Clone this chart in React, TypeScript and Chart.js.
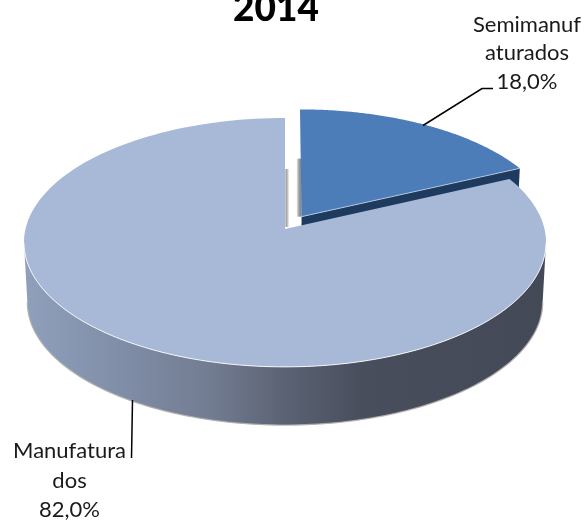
import React, { useEffect, useRef } from "react";
import { Chart, registerables } from "chart.js";

Chart.register(...registerables);

const chartTitle = "2014";
const categories = ["Semimanufaturados", "Manufaturados"];
const shares = [18.0, 82.0];
const labelBreaks = [["Semimanuf", "aturados"], ["Manufatura", "dos"]];
const sliceColors = ["#4C7DB9", "#A8B8D7"];
const edgeColors = ["#1F3A5F", "#596071"];

const OFFSET_PX = 26;
const OFFSET_SHRINK = 0.985;
const STRETCH_X = 1.2014;
const STRETCH_Y = 0.5694;
const PERSPECTIVE = 0.108;
const DEPTH = 60;
const LOWER_SCALE = 0.987;

const fmt = (v: number) => v.toFixed(1).replace(".", ",") + "%";

function projector(el: any) {
  const R = el.outerRadius;
  const mid = (el.startAngle + el.endAngle) / 2 + Math.PI / 2;
  const off = (el.options.offset || 0) / R;
  const shrink = off > 0 ? OFFSET_SHRINK : 1;
  const ou = Math.sin(mid) * off;
  const ov = Math.cos(mid) * off;
  return (angle: number, r: number, lower: boolean) => {
    const th = angle + Math.PI / 2;
    const u = ou + Math.sin(th) * r * shrink;
    const v = ov + Math.cos(th) * r * shrink;
    const s = (1 / (1 + PERSPECTIVE * v)) * (lower ? LOWER_SCALE : 1);
    return {
      x: el.x + R * STRETCH_X * u * s,
      y: el.y - R * STRETCH_Y * v * s + (lower ? DEPTH : 0),
    };
  };
}

function arcPoints(p: any, a0: number, a1: number, lower: boolean) {
  const pts = [];
  const n = 160;
  for (let i = 0; i <= n; i++) pts.push(p(a0 + ((a1 - a0) * i) / n, 1, lower));
  return pts;
}

function trace(ctx: CanvasRenderingContext2D, pts: any[], move = true) {
  pts.forEach((q, i) => (i === 0 && move ? ctx.moveTo(q.x, q.y) : ctx.lineTo(q.x, q.y)));
}

const pie3d = {
  id: "pie3d",
  beforeDatasetsDraw(chart: any) {
    const ctx: CanvasRenderingContext2D = chart.ctx;
    const [semi, manu] = chart.getDatasetMeta(0).data;
    const ps = projector(semi);
    const pm = projector(manu);

    const a = ps(semi.startAngle, 0, false);
    const e = ps(semi.endAngle, 1, false);
    const aLow = ps(semi.startAngle, 0, true);
    const eLow = ps(semi.endAngle, 1, true);
    ctx.fillStyle = edgeColors[0];
    ctx.beginPath();
    trace(ctx, [a, e, eLow, aLow]);
    ctx.closePath();
    ctx.fill();

    const g1 = ctx.createLinearGradient(a.x - 5, 0, a.x, 0);
    g1.addColorStop(0, "#f2f2f2");
    g1.addColorStop(0.5, "#9a9a9a");
    g1.addColorStop(1, "#7d8590");
    ctx.fillStyle = g1;
    ctx.fillRect(a.x - 5, a.y - 58, 5, 58);

    ctx.fillStyle = sliceColors[0];
    ctx.beginPath();
    ctx.moveTo(a.x, a.y);
    trace(ctx, arcPoints(ps, semi.startAngle, semi.endAngle, false), false);
    ctx.closePath();
    ctx.fill();
    ctx.strokeStyle = "rgba(190,205,225,0.85)";
    ctx.lineWidth = 1;
    ctx.beginPath();
    trace(ctx, [a, e]);
    ctx.stroke();

    const silhouette = Math.acos(-PERSPECTIVE);
    const frontStart = silhouette - Math.PI / 2;
    const wallEnd = 2 * Math.PI - silhouette - Math.PI / 2;
    const topPts = arcPoints(pm, frontStart, wallEnd, false);
    const lowPts = arcPoints(pm, frontStart, wallEnd, true);
    const grad = ctx.createLinearGradient(24, 0, 546, 0);
    grad.addColorStop(0, "#8FA0BC");
    grad.addColorStop(0.2, "#7F8CA5");
    grad.addColorStop(0.36, "#727C91");
    grad.addColorStop(0.5, "#5B6273");
    grad.addColorStop(0.65, "#484E5C");
    grad.addColorStop(1, "#434957");
    ctx.fillStyle = grad;
    ctx.beginPath();
    trace(ctx, topPts);
    trace(ctx, [...lowPts].reverse(), false);
    ctx.closePath();
    ctx.fill();
    ctx.strokeStyle = "rgba(175,175,175,0.9)";
    ctx.lineWidth = 1.3;
    ctx.beginPath();
    trace(ctx, lowPts);
    ctx.stroke();

    const m = pm(manu.startAngle, 0, false);
    const g2 = ctx.createLinearGradient(m.x + 0.5, 0, m.x + 4, 0);
    g2.addColorStop(0, "#8c8c8c");
    g2.addColorStop(0.6, "#c4c4c4");
    g2.addColorStop(1, "#f5f5f5");
    ctx.fillStyle = g2;
    ctx.fillRect(m.x + 0.5, m.y - 60, 3.5, 58);

    ctx.fillStyle = sliceColors[1];
    ctx.beginPath();
    ctx.moveTo(m.x, m.y);
    trace(ctx, arcPoints(pm, manu.startAngle, manu.endAngle, false), false);
    ctx.closePath();
    ctx.fill();
    ctx.strokeStyle = "rgba(255,255,255,0.85)";
    ctx.lineWidth = 1;
    ctx.beginPath();
    trace(ctx, topPts);
    ctx.stroke();
  },
  beforeDatasetDraw() {
    return false;
  },
  afterDraw(chart: any) {
    const ctx: CanvasRenderingContext2D = chart.ctx;
    ctx.save();
    ctx.fillStyle = "#000";
    ctx.textAlign = "center";
    ctx.textBaseline = "alphabetic";
    ctx.font = "900 37px Lato";
    ctx.fillText(chartTitle, 276, 21);

    ctx.font = "22px Lato";
    ctx.fillStyle = "#1a1a1a";
    const place = (i: number, x: number, y0: number, step: number) => {
      [...labelBreaks[i], fmt(shares[i])].forEach((line, k) =>
        ctx.fillText(line, x, y0 + k * step)
      );
    };
    place(0, 527, 31.5, 28.7);
    place(1, 69.5, 458, 29.5);

    ctx.strokeStyle = "#000";
    ctx.lineWidth = 1.5;
    ctx.beginPath();
    ctx.moveTo(423, 125.5);
    ctx.lineTo(482, 88.5);
    ctx.lineTo(493, 88.5);
    ctx.moveTo(132.5, 400);
    ctx.lineTo(131.5, 458);
    ctx.stroke();
    ctx.restore();
  },
};

export default function App() {
  const ref = useRef<HTMLCanvasElement>(null);
  useEffect(() => {
    const chart = new Chart(ref.current as HTMLCanvasElement, {
      type: "pie",
      data: {
        labels: categories,
        datasets: [
          {
            data: shares,
            backgroundColor: sliceColors,
            borderWidth: 0,
            offset: [OFFSET_PX, 0],
          },
        ],
      },
      options: {
        animation: false,
        responsive: false,
        layout: { padding: { left: 0, right: 15, top: 0, bottom: 65 } },
        plugins: { legend: { display: false }, tooltip: { enabled: false }, title: { display: false } },
      },
      plugins: [pie3d],
    } as any);
    return () => chart.destroy();
  }, []);
  return (
    <div style={{ position: "fixed", left: 0, top: 0, width: 585, height: 523, background: "#fff" }}>
      <canvas ref={ref} width={585} height={523} style={{ display: "block" }} />
    </div>
  );
}
